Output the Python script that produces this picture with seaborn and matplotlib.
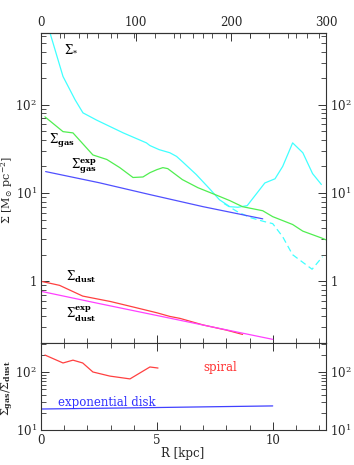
import numpy as np
import pandas as pd
import matplotlib
matplotlib.use("Agg")
import matplotlib.pyplot as plt
import seaborn as sns
from matplotlib.ticker import FixedLocator, FuncFormatter, LogLocator, MultipleLocator, NullFormatter

# ---------------- data ----------------
star_R = [0.39, 0.95, 1.47, 1.81, 2.4, 3.55, 4.55, 4.7, 5.1, 5.56, 5.85, 6.1, 6.7, 7.3, 7.7, 8.15,
          8.5, 8.9, 9.66, 10.1, 10.43, 10.86, 11.3, 11.72, 12.1]
star_S = [650, 209, 114, 81, 67, 48, 37, 34.5, 31, 28.6, 26, 22.7, 16.2, 11, 8.4, 7.0,
          6.9, 7.2, 13, 14.5, 20, 37, 28.6, 16.6, 12.5]

stard_R = [7.9, 8.45, 9.0, 9.57, 10.0, 10.43, 10.73, 10.86, 11.3, 11.7, 12.15]
stard_S = [7.6, 6.2, 5.3, 4.8, 4.5, 3.2, 2.3, 2.0, 1.64, 1.37, 1.9]

gas_R = [0.17, 0.95, 1.38, 2.24, 2.84, 3.4, 3.97, 4.4, 4.7, 5.0, 5.26, 5.47, 6.1, 6.77, 7.6, 8.15,
         8.7, 9.57, 10.0, 10.86, 11.3, 12.1, 12.3]
gas_S = [73, 49.6, 48, 27, 24, 19.4, 15, 15.2, 17, 18.4, 19.4, 18.9, 14.2, 11.5, 9.4, 8.2,
         7.0, 6.3, 5.4, 4.4, 3.7, 3.1, 2.95]

gasexp_R = [0.2, 2.5, 4.7, 7.0, 9.57]
gasexp_S = [17.5, 13.1, 9.6, 7.0, 5.1]

dust_R = [0.0, 0.8, 1.8, 3.0, 4.0, 5.0, 5.56, 6.0, 7.0, 8.0, 8.7]
dust_S = [1.0, 0.9, 0.68, 0.59, 0.51, 0.44, 0.40, 0.38, 0.32, 0.28, 0.25]

dustexp_R = [0.0, 2.5, 5.0, 7.5, 10.0]
dustexp_S = [0.77, 0.56, 0.41, 0.30, 0.22]

spiral_R = [0.17, 0.95, 1.38, 1.8, 2.24, 2.97, 3.84, 4.7, 5.05]
spiral_ratio = [196, 143, 160, 143, 100, 85, 76, 122, 117]

expdisk_R = [0.0, 2.5, 5.0, 7.5, 10.0]
expdisk_ratio = [23, 23.7, 24.4, 25.2, 26]

xticks_major = [0, 5, 10]
top_ticks = [0, 100, 200, 300]
arcsec_per_kpc = 24.4

# ---------------- style ----------------
sns.set_style("ticks")
plt.rcParams['font.family'] = ['DejaVu Serif']
plt.rcParams['mathtext.fontset'] = 'dejavuserif'
plt.rcParams['xtick.direction'] = 'in'
plt.rcParams['ytick.direction'] = 'in'

W, H = 354, 465
fig = plt.figure(figsize=(W / 100, H / 100), dpi=100)
fig.patch.set_facecolor('white')

L = 41 / W
Wd = (326 - 41) / W
ax1 = fig.add_axes([L, 1 - 343 / H, Wd, (343 - 33) / H])
ax2 = fig.add_axes([L, 1 - 430 / H, Wd, (430 - 343) / H], sharex=ax1)

lw = 0.9
def line(ax, x, y, color, ls='-'):
    df = pd.DataFrame({'R': x, 'S': y})
    sns.lineplot(data=df, x='R', y='S', ax=ax, color=color, lw=lw, linestyle=ls,
                 estimator=None, sort=False)

line(ax1, star_R, star_S, '#40ffff')
line(ax1, stard_R, stard_S, '#40ffff', ls=(0, (5, 3)))
line(ax1, gas_R, gas_S, '#50ee50')
line(ax1, gasexp_R, gasexp_S, '#5050ff')
line(ax1, dust_R, dust_S, '#ff4040')
line(ax1, dustexp_R, dustexp_S, '#ff40ff')

line(ax2, spiral_R, spiral_ratio, '#ff4040')
line(ax2, expdisk_R, expdisk_ratio, '#4040ff')

for ax in (ax1, ax2):
    ax.set_yscale('log')
    ax.set_xlim(0, 12.3)
    for s in ax.spines.values():
        s.set_color('#333333')
        s.set_linewidth(0.8)
    ax.xaxis.set_major_locator(FixedLocator(xticks_major))
    ax.xaxis.set_minor_locator(MultipleLocator(1))
    ax.yaxis.set_minor_locator(LogLocator(base=10, subs=np.arange(2, 10)))
    ax.yaxis.set_minor_formatter(NullFormatter())
    ax.tick_params(which='both', direction='in', top=True, right=True, labelright=True,
                   color='#333333', labelsize=8.5, pad=3)
    ax.tick_params(which='major', length=6, width=0.7)
    ax.tick_params(which='minor', length=3.5, width=0.6)
    ax.set_xlabel('')
    ax.set_ylabel('')

def yfmt(v, pos):
    e = int(round(np.log10(v)))
    if e == 0:
        return '1'
    return r'$10^{%d}$' % e

ax1.set_ylim(0.2, 650)
ax1.yaxis.set_major_locator(FixedLocator([1, 10, 100]))
ax1.yaxis.set_major_formatter(FuncFormatter(yfmt))
ax1.tick_params(axis='x', labelbottom=False, top=False)

ax2.set_ylim(10, 316)
ax2.yaxis.set_major_locator(FixedLocator([10, 100]))
ax2.yaxis.set_major_formatter(FuncFormatter(yfmt))
ax2.xaxis.set_major_formatter(FuncFormatter(lambda v, p: '%d' % v))

sec = ax1.secondary_xaxis('top', functions=(lambda x: x * arcsec_per_kpc, lambda a: a / arcsec_per_kpc))
sec.xaxis.set_major_locator(FixedLocator(top_ticks))
sec.xaxis.set_minor_locator(MultipleLocator(20))
sec.tick_params(which='both', direction='in', color='#333333', labelsize=8.5, pad=3)
sec.tick_params(which='major', length=6, width=0.7)
sec.tick_params(which='minor', length=3.5, width=0.6)
sec.spines['top'].set_color('#333333')

# labels inside
tk = dict(fontsize=8.5, color='black')
ax1.text(1.0, 400, r'$\Sigma_{*}$', **tk)
ax1.text(0.35, 36, r'$\Sigma_{\mathbf{gas}}$', **tk)
ax1.text(1.3, 19, r'$\Sigma_{\mathbf{gas}}^{\mathbf{exp}}$', **tk)
ax1.text(1.1, 1.02, r'$\Sigma_{\mathbf{dust}}$', **tk)
ax1.text(1.1, 0.38, r'$\Sigma_{\mathbf{dust}}^{\mathbf{exp}}$', **tk)

ax2.text(7.0, 120, 'spiral', color='#ff3030', fontsize=8.5, va='center')
ax2.text(0.75, 30, 'exponential disk', color='#3030ff', fontsize=8.5, va='center')

fig.text(7 / W, 1 - 190 / H, r'$\Sigma\ [\mathrm{M}_{\odot}\ \mathrm{pc}^{-2}]$', rotation=90,
         ha='center', va='center', fontsize=8)
fig.text(8 / W, 1 - 388 / H, r'$\Sigma_{\mathbf{gas}}/\Sigma_{\mathbf{dust}}$', rotation=90,
         ha='center', va='center', fontsize=8)
fig.text(183 / W, 1 - 453 / H, 'R [kpc]', ha='center', va='center', fontsize=8.5)

fig.savefig('out.png', dpi=100, facecolor='white')
